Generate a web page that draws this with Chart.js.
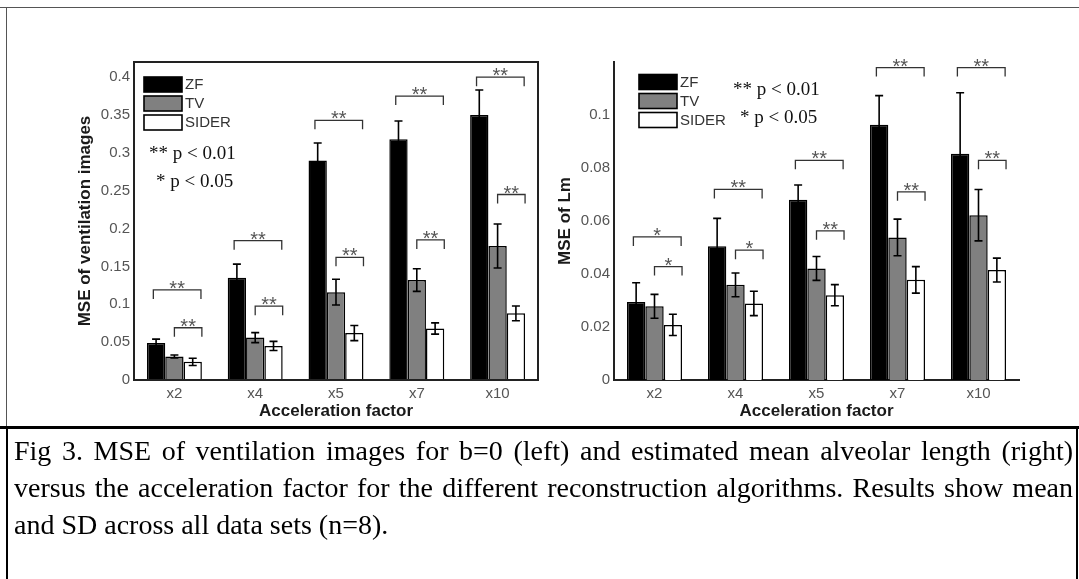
<!DOCTYPE html>
<html>
<head>
<meta charset="utf-8">
<script src="https://cdn.jsdelivr.net/npm/chart.js@4.4.1/dist/chart.umd.min.js"></script>
<style>
  html, body { margin: 0; padding: 0; background: #fff; }
  #page { position: relative; width: 1079px; height: 579px; overflow: hidden; background: #fff; }
  .rule { position: absolute; background: #555; }
  #leftWrap { position: absolute; left: 0; top: 0; width: 545px; height: 427px; }
  #rightWrap { position: absolute; left: 545px; top: 0; width: 534px; height: 427px; }
  .cap { position: absolute; left: 14px; width: 1059px; font-family: "Liberation Serif", "Times New Roman", serif;
         font-size: 28px; line-height: 37px; color: #000; white-space: nowrap; }
  .just { text-align: justify; text-align-last: justify; }
</style>
</head>
<body>
<div id="page">
  <div id="leftWrap"><canvas id="ventChart" width="545" height="427"></canvas></div>
  <div id="rightWrap"><canvas id="lmChart" width="534" height="427"></canvas></div>

  <!-- frame lines -->
  <div class="rule" style="left:0;top:7px;width:1079px;height:1px;"></div>
  <div class="rule" style="left:6px;top:7px;width:1px;height:421px;"></div>
  <div class="rule" style="left:0;top:426px;width:1079px;height:3px;background:#000;"></div>
  <div class="rule" style="left:6px;top:428px;width:2px;height:151px;background:#000;"></div>
  <div class="rule" style="left:1076px;top:428px;width:2px;height:151px;background:#000;"></div>

  <div class="cap just" style="top:432px;">Fig 3. MSE of ventilation images for b=0 (left) and estimated mean alveolar length (right)</div>
  <div class="cap just" style="top:469px;">versus the acceleration factor for the different reconstruction algorithms. Results show mean</div>
  <div class="cap" style="top:506px;">and SD across all data sets (n=8).</div>
</div>

<script>
// ===== DATA =====
const categories = ['x2', 'x4', 'x5', 'x7', 'x10'];
const seriesNames = ['ZF', 'TV', 'SIDER'];

// left panel: MSE of ventilation images (mean, SD)
const ventZF = [0.049, 0.135, 0.290, 0.318, 0.350];
const ventZFsd = [0.005, 0.018, 0.023, 0.024, 0.033];
const ventTV = [0.031, 0.056, 0.116, 0.132, 0.177];
const ventTVsd = [0.002, 0.0066, 0.017, 0.015, 0.029];
const ventSIDER = [0.024, 0.045, 0.062, 0.068, 0.088];
const ventSIDERsd = [0.0048, 0.006, 0.010, 0.0074, 0.0097];
const ventTicks = [0, 0.05, 0.1, 0.15, 0.2, 0.25, 0.3, 0.35, 0.4];
// significance marks: outer = ZF vs SIDER, inner = TV vs SIDER
const ventSigOuter = ['**', '**', '**', '**', '**'];
const ventSigInner = ['**', '**', '**', '**', '**'];
const ventSigOuterLevel = [0.119, 0.184, 0.343, 0.375, 0.400];
const ventSigInnerLevel = [0.069, 0.0975, 0.162, 0.185, 0.245];

// right panel: MSE of Lm (mean, SD)
const lmZF = [0.0294, 0.0505, 0.068, 0.0963, 0.0854];
const lmZFsd = [0.0073, 0.0105, 0.0056, 0.011, 0.023];
const lmTV = [0.0278, 0.0359, 0.0421, 0.0538, 0.0622];
const lmTVsd = [0.0045, 0.0045, 0.0045, 0.0069, 0.0097];
const lmSIDER = [0.0208, 0.0289, 0.032, 0.0378, 0.0415];
const lmSIDERsd = [0.004, 0.0046, 0.004, 0.005, 0.0045];
const lmTicks = [0, 0.02, 0.04, 0.06, 0.08, 0.1];
const lmSigOuter = ['*', '**', '**', '**', '**'];
const lmSigInner = ['*', '*', '**', '**', '**'];
const lmSigOuterLevel = [0.054, 0.0719, 0.0829, 0.1179, 0.1179];
const lmSigInnerLevel = [0.0428, 0.049, 0.0563, 0.071, 0.0829];

const pValueNotes = ['** p < 0.01', '* p < 0.05'];

// ===== STYLE =====
const fills = ['#000000', '#808080', '#ffffff'];
const SANS = '"Liberation Sans", Arial, sans-serif';
const SERIF = '"Liberation Serif", "Times New Roman", serif';

// overlay plugin: error bars, significance brackets, legend, p-value note, box
function overlayPlugin(o) {
    return {
        id: 'overlay_' + o.name,
        afterDatasetsDraw(chart) {
            const ctx = chart.ctx;
            const yScale = chart.scales.y;
            const metas = [0, 1, 2].map(i => chart.getDatasetMeta(i));
            ctx.save();

            // error bars
            ctx.strokeStyle = '#000';
            ctx.lineWidth = 1.6;
            metas.forEach((meta, di) => {
                meta.data.forEach((bar, i) => {
                    const v = o.values[di][i], e = o.errors[di][i];
                    const top = yScale.getPixelForValue(v + e);
                    const bot = yScale.getPixelForValue(v - e);
                    ctx.beginPath();
                    ctx.moveTo(bar.x, top); ctx.lineTo(bar.x, bot);
                    ctx.moveTo(bar.x - 4, top); ctx.lineTo(bar.x + 4, top);
                    ctx.moveTo(bar.x - 4, bot); ctx.lineTo(bar.x + 4, bot);
                    ctx.stroke();
                });
            });

            // significance brackets
            const drawBracket = (x1, x2, level, mark) => {
                const yTop = yScale.getPixelForValue(level);
                ctx.strokeStyle = '#333';
                ctx.lineWidth = 1.3;
                ctx.beginPath();
                ctx.moveTo(x1, yTop + 9); ctx.lineTo(x1, yTop);
                ctx.lineTo(x2, yTop); ctx.lineTo(x2, yTop + 9);
                ctx.stroke();
                ctx.fillStyle = '#555';
                ctx.font = '20px ' + SANS;
                ctx.textAlign = 'center';
                ctx.textBaseline = 'alphabetic';
                ctx.fillText(mark, (x1 + x2) / 2, yTop + 5);
            };
            categories.forEach((c, i) => {
                const zf = metas[0].data[i], tv = metas[1].data[i], sd = metas[2].data[i];
                const bw = sd.width;
                drawBracket(zf.x - 0.15 * bw, sd.x + 0.45 * bw, o.sigOuterLevel[i], o.sigOuter[i]);
                drawBracket(tv.x, sd.x + 0.5 * bw, o.sigInnerLevel[i], o.sigInner[i]);
            });
            ctx.restore();
        },
        afterDraw(chart) {
            const ctx = chart.ctx;
            const area = chart.chartArea;
            ctx.save();

            // full box for the left panel
            if (o.box) {
                ctx.strokeStyle = '#222';
                ctx.lineWidth = 2;
                ctx.strokeRect(area.left, area.top, area.right - area.left, area.bottom - area.top);
            }

            // legend
            const lx = area.left + o.legendDx, ly = area.top + o.legendDy;
            seriesNames.forEach((name, i) => {
                const y = ly + i * 19;
                ctx.fillStyle = fills[i];
                ctx.fillRect(lx, y, 38, 15);
                ctx.strokeStyle = '#000';
                ctx.lineWidth = 1.6;
                ctx.strokeRect(lx, y, 38, 15);
                ctx.fillStyle = '#333';
                ctx.font = '15px ' + SANS;
                ctx.textAlign = 'left';
                ctx.textBaseline = 'middle';
                ctx.fillText(name, lx + 41, y + 8);
            });

            // p-value note
            ctx.fillStyle = '#111';
            ctx.font = '19px ' + SERIF;
            ctx.textAlign = 'left';
            ctx.textBaseline = 'middle';
            ctx.fillText(pValueNotes[0], area.left + o.noteDx, area.top + o.noteDy);
            ctx.fillText(pValueNotes[1], area.left + o.noteDx + 7, area.top + o.noteDy + 28);
            ctx.restore();
        }
    };
}

function buildChart(canvasId, o) {
    const datasets = [o.values[0], o.values[1], o.values[2]].map((vals, i) => ({
        label: seriesNames[i],
        data: vals,
        backgroundColor: fills[i],
        borderColor: '#000',
        borderWidth: 1.5,
        borderSkipped: 'bottom',
        barPercentage: 1,
        categoryPercentage: 0.68
    }));

    return new Chart(document.getElementById(canvasId), {
        type: 'bar',
        data: { labels: categories, datasets: datasets },
        options: {
            responsive: false,
            animation: false,
            devicePixelRatio: 1,
            layout: { padding: { left: 0, right: o.padRight, top: 62, bottom: 0 } },
            plugins: { legend: { display: false }, tooltip: { enabled: false } },
            scales: {
                x: {
                    grid: { display: false, drawTicks: false },
                    border: { display: true, color: '#222', width: 2 },
                    ticks: { color: '#555', font: { family: SANS, size: 15 }, padding: 5 },
                    title: {
                        display: true, text: 'Acceleration factor', color: '#1a1a1a',
                        font: { family: SANS, size: 17, weight: 'bold' }, padding: { top: 0, bottom: 5 }
                    },
                    afterFit: s => { s.height = 47; }
                },
                y: {
                    min: 0, max: o.yMax,
                    grid: { display: false, drawTicks: false },
                    border: { display: true, color: '#222', width: 2 },
                    ticks: {
                        color: '#555', font: { family: SANS, size: 15 }, padding: 4,
                        callback: v => String(+v.toFixed(3))
                    },
                    afterBuildTicks: s => { s.ticks = o.ticks.map(v => ({ value: v })); },
                    title: {
                        display: true, text: o.yTitle, color: '#1a1a1a',
                        font: { family: SANS, size: 17, weight: 'bold' }, padding: { top: o.yTitlePad, bottom: 0 }
                    },
                    afterFit: s => { s.width = o.yWidth; }
                }
            }
        },
        plugins: [overlayPlugin(o)]
    });
}

buildChart('ventChart', {
    name: 'vent',
    values: [ventZF, ventTV, ventSIDER],
    errors: [ventZFsd, ventTVsd, ventSIDERsd],
    sigOuter: ventSigOuter, sigInner: ventSigInner,
    sigOuterLevel: ventSigOuterLevel, sigInnerLevel: ventSigInnerLevel,
    ticks: ventTicks, yMax: 0.42,
    yTitle: 'MSE of ventilation images',
    yWidth: 134, yTitlePad: 75, padRight: 7,
    box: true,
    legendDx: 10, legendDy: 15,
    noteDx: 15, noteDy: 92
});

buildChart('lmChart', {
    name: 'lm',
    values: [lmZF, lmTV, lmSIDER],
    errors: [lmZFsd, lmTVsd, lmSIDERsd],
    sigOuter: lmSigOuter, sigInner: lmSigInner,
    sigOuterLevel: lmSigOuterLevel, sigInnerLevel: lmSigInnerLevel,
    ticks: lmTicks, yMax: 0.12,
    yTitle: 'MSE of Lm',
    yWidth: 69, yTitlePad: 10, padRight: 60,
    box: false,
    legendDx: 25, legendDy: 12.5,
    noteDx: 119, noteDy: 28
});
</script>
</body>
</html>
